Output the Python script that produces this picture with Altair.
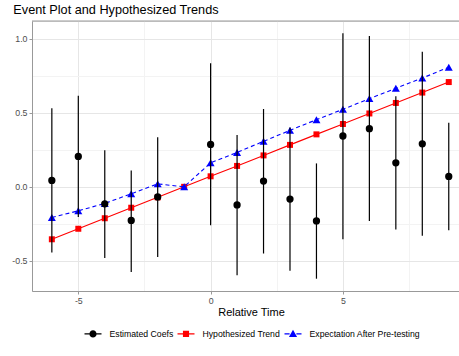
import altair as alt
import pandas as pd

# ---- data ----
rel_time = [-6, -5, -4, -3, -2, -1, 0, 1, 2, 3, 4, 5, 6, 7, 8, 9]
est_time = [-6, -5, -4, -3, -2, 0, 1, 2, 3, 4, 5, 6, 7, 8, 9]
est_coef = [0.043, 0.205, -0.115, -0.227, -0.068, 0.286, -0.122, 0.039, -0.083, -0.23, 0.343, 0.392, 0.162, 0.29, 0.07]
ci_low = [-0.443, -0.203, -0.48, -0.574, -0.473, -0.259, -0.597, -0.45, -0.567, -0.62, -0.353, -0.23, -0.288, -0.331, -0.293]
ci_high = [0.53, 0.615, 0.246, 0.11, 0.334, 0.834, 0.349, 0.525, 0.40, 0.158, 1.036, 1.018, 0.612, 0.912, 0.432]
trend = [-0.354, -0.283, -0.212, -0.141, -0.071, 0.0, 0.071, 0.141, 0.212, 0.283, 0.354, 0.424, 0.495, 0.566, 0.636, 0.707]
expectation = [-0.207, -0.162, -0.112, -0.047, 0.02, 0.0, 0.162, 0.232, 0.307, 0.381, 0.453, 0.523, 0.595, 0.665, 0.734, 0.807]

series_names = ["Estimated Coefs", "Hypothesized Trend", "Expectation After Pre-testing"]
series_colors = ["#000000", "#FF0000", "#0000FF"]
legend_shapes = [
    "M-1,-0.065H-0.38V0.065H-1Z M0.38,-0.065H1V0.065H0.38Z M-0.42,0A0.42,0.42 0 1,1 0.42,0A0.42,0.42 0 1,1 -0.42,0Z",
    "M-1,-0.065H-0.34V0.065H-1Z M0.34,-0.065H1V0.065H0.34Z M-0.36,-0.36H0.36V0.36H-0.36Z",
    "M-1,-0.065H-0.4V0.065H-1Z M0.4,-0.065H1V0.065H0.4Z M0,-0.48L0.48,0.36L-0.48,0.36Z",
]

est_df = pd.DataFrame({"t": est_time, "val": est_coef, "lo": ci_low, "hi": ci_high})
trend_df = pd.DataFrame({"t": rel_time, "val": trend})
exp_df = pd.DataFrame({"t": rel_time, "val": expectation})
legend_df = pd.DataFrame({"t": [0, 0, 0], "val": [0, 0, 0], "series": series_names})

FONT = "Liberation Sans"
W, H = 427, 270
xscale = alt.Scale(domain=[-6.75, 9.387], nice=False, zero=False)
yscale = alt.Scale(domain=[-0.703, 1.119], nice=False, zero=False)

x_major = "abs(datum.value % 5) < 0.001"
y_major = "abs(datum.value*2 - round(datum.value*2)) < 0.001"

xaxis = alt.Axis(
    values=[-5, -2.5, 0, 2.5, 5, 7.5],
    labelExpr=f"{x_major} ? replace(format(datum.value, 'd'), '\u2212', '-') : ''",
    grid=True,
    gridColor={"condition": {"test": x_major, "value": "#E6E6E6"}, "value": "#F3F3F3"},
    gridWidth=1,
    tickColor={"condition": {"test": x_major, "value": "#999999"}, "value": "transparent"},
    tickSize=3,
    domainColor="#999999",
    domainWidth=1,
    labelFont=FONT, labelFontSize=8.8, labelColor="#4D4D4D", labelPadding=2,
    title="Relative Time", titleFont=FONT, titleFontSize=11, titleFontWeight="normal",
    titleColor="#000000", titleX=219, titleY=24, titleBaseline="alphabetic", titleAnchor="middle",
)
yaxis = alt.Axis(
    values=[-0.5, -0.25, 0, 0.25, 0.5, 0.75, 1.0],
    labelExpr=f"{y_major} ? replace(format(datum.value, '.1f'), '\u2212', '-') : ''",
    grid=True,
    gridColor={"condition": {"test": y_major, "value": "#E6E6E6"}, "value": "#F3F3F3"},
    gridWidth=1,
    tickColor={"condition": {"test": y_major, "value": "#999999"}, "value": "transparent"},
    tickSize=3,
    domainColor="#999999",
    domainWidth=1,
    labelFont=FONT, labelFontSize=8.8, labelColor="#4D4D4D", labelPadding=2,
    title=None,
)

X = alt.X("t:Q", scale=xscale, axis=xaxis)
Y = alt.Y("val:Q", scale=yscale, axis=yaxis)

top_border = alt.Chart(pd.DataFrame({"a": [0]})).mark_rule(color="#999999", strokeWidth=1).encode(
    x=alt.value(0), x2=alt.value(W), y=alt.value(0)
)

red_line = alt.Chart(trend_df).mark_line(color="#FF0000", strokeWidth=1.1).encode(x=X, y=Y)
red_pts = alt.Chart(trend_df).mark_point(filled=True, opacity=1, shape="square", size=36, color="#FF0000").encode(x="t:Q", y="val:Q")
blue_line = alt.Chart(exp_df).mark_line(color="#0000FF", strokeWidth=1.1, strokeDash=[4, 3]).encode(x="t:Q", y="val:Q")
blue_pts = alt.Chart(exp_df).mark_point(filled=True, opacity=1, shape="triangle-up", size=64, color="#0000FF").encode(x="t:Q", y="val:Q")
err = alt.Chart(est_df).mark_rule(color="#000000", strokeWidth=1.2).encode(x="t:Q", y="lo:Q", y2="hi:Q")
black_pts = alt.Chart(est_df).mark_point(filled=True, opacity=1, shape="circle", size=53, color="#000000").encode(x="t:Q", y="val:Q")

leg = alt.Legend(
    orient="none", legendX=52.5, legendY=304, direction="horizontal", title=None,
    labelFont=FONT, labelFontSize=8.7, labelColor="#000000", labelOffset=8,
    symbolSize=289, symbolStrokeWidth=0, columnPadding=4, padding=0,
)
legend_layer = alt.Chart(legend_df).transform_filter("false").mark_point(filled=True, opacity=1).encode(
    x="t:Q", y="val:Q",
    color=alt.Color("series:N", scale=alt.Scale(domain=series_names, range=series_colors), legend=leg),
    shape=alt.Shape("series:N", scale=alt.Scale(domain=series_names, range=legend_shapes), legend=leg),
)

chart = alt.layer(
    red_line, top_border, red_pts, blue_line, blue_pts, err, black_pts, legend_layer
).properties(
    width=W, height=H, autosize="none",
    padding={"left": 32, "top": 21, "right": 0, "bottom": 65},
    title=alt.TitleParams(
        "Event Plot and Hypothesized Trends", anchor="start", font=FONT, fontSize=12.7,
        fontWeight="normal", color="#000000", offset=4, dx=1.5,
    ),
).configure_view(stroke=None).configure(font=FONT)

chart.save("out.html", embed_options={"renderer": "svg", "actions": False})
